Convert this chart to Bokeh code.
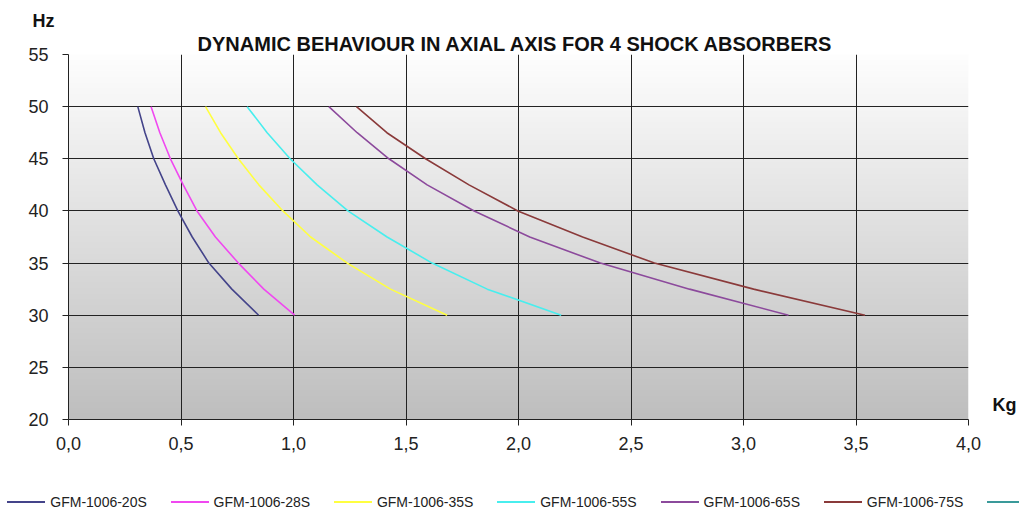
import numpy as np
from bokeh.plotting import figure
from bokeh.layouts import column
from bokeh.models import Range1d, FixedTicker, Title, LinearAxis, Div
from bokeh.embed import file_html
from bokeh.resources import INLINE

# ---------------- data ----------------
title_text = "DYNAMIC BEHAVIOUR IN AXIAL AXIS FOR 4  SHOCK ABSORBERS"
y_label = "Hz"
x_label = "Kg"

hz = [50, 47.5, 45, 42.5, 40, 37.5, 35, 32.5, 30]

series_names = ["GFM-1006-20S", "GFM-1006-28S", "GFM-1006-35S",
                "GFM-1006-55S", "GFM-1006-65S", "GFM-1006-75S"]
kg_20s = [0.308, 0.340, 0.379, 0.431, 0.486, 0.550, 0.624, 0.726, 0.845]
kg_28s = [0.367, 0.406, 0.453, 0.510, 0.571, 0.653, 0.755, 0.868, 1.005]
kg_35s = [0.609, 0.676, 0.755, 0.846, 0.953, 1.076, 1.239, 1.431, 1.683]
kg_55s = [0.794, 0.883, 0.985, 1.105, 1.242, 1.416, 1.616, 1.861, 2.190]
kg_65s = [1.157, 1.283, 1.424, 1.594, 1.803, 2.050, 2.364, 2.760, 3.200]
kg_75s = [1.280, 1.415, 1.587, 1.780, 1.997, 2.285, 2.604, 3.045, 3.540]
series_values = [kg_20s, kg_28s, kg_35s, kg_55s, kg_65s, kg_75s]
series_colors = ["#44448a", "#f048f0", "#ffff40", "#48eeee", "#8c4a9c", "#8a3a3a"]
# a seventh legend entry whose label lies beyond the right edge of the picture
extra_legend_color = "#3a9a9a"

x_ticks = [0.0, 0.5, 1.0, 1.5, 2.0, 2.5, 3.0, 3.5, 4.0]
x_tick_labels = ["0,0", "0,5", "1,0", "1,5", "2,0", "2,5", "3,0", "3,5", "4,0"]
y_ticks = [20, 25, 30, 35, 40, 45, 50, 55]
x_label_at = 21.4   # Hz level beside which the "Kg" caption sits

FONT = "Liberation Sans"
INK = "#222222"

# ---------------- main chart ----------------
p = figure(frame_width=900, frame_height=365, output_backend="svg",
           toolbar_location=None,
           x_range=Range1d(0, 4), y_range=Range1d(20, 55),
           min_border_left=68, min_border_right=51,
           min_border_top=54, min_border_bottom=61)
p.outline_line_color = None
p.background_fill_color = "white"
p.border_fill_color = "white"

# gradient background of the plot area
n = 256
ys = np.linspace(0.0, 1.0, n)          # 0 = bottom (20 Hz), 1 = top (55 Hz)
g = (190 + 64 * ys).clip(0, 255).astype(np.uint8)
img = np.empty((n, 1), dtype=np.uint32)
view = img.view(dtype=np.uint8).reshape((n, 1, 4))
view[:, 0, 0] = g
view[:, 0, 1] = g
view[:, 0, 2] = g
view[:, 0, 3] = 255
p.image_rgba(image=[img], x=0, y=20, dw=4, dh=35, level="image")

# axes
p.xaxis.ticker = FixedTicker(ticks=x_ticks)
p.xaxis.major_label_overrides = {t: l for t, l in zip(x_ticks, x_tick_labels)}
p.yaxis.ticker = FixedTicker(ticks=y_ticks)
for ax in (p.xaxis, p.yaxis):
    ax.axis_line_color = INK
    ax.major_tick_line_color = INK
    ax.major_tick_out = 6
    ax.major_tick_in = 0
    ax.minor_tick_line_color = None
    ax.major_label_text_font = FONT
    ax.major_label_text_font_size = "18px"
    ax.major_label_text_color = INK
p.yaxis.major_label_standoff = 14
p.xaxis.major_label_standoff = 11

# "Kg" caption on the right, beside the bottom of the plot
kg_axis = LinearAxis(ticker=FixedTicker(ticks=[x_label_at]),
                     major_label_overrides={x_label_at: x_label},
                     axis_line_color=None, major_tick_line_color=None,
                     minor_tick_line_color=None, major_tick_out=0, major_tick_in=0,
                     major_label_standoff=24,
                     major_label_text_font=FONT, major_label_text_font_size="18px",
                     major_label_text_font_style="bold",
                     major_label_text_color="#111111")
p.add_layout(kg_axis, "right")

p.xgrid.ticker = FixedTicker(ticks=x_ticks)
p.ygrid.ticker = FixedTicker(ticks=y_ticks)
for gr in (p.xgrid, p.ygrid):
    gr.grid_line_color = INK
    gr.grid_line_alpha = 1.0
    gr.grid_line_width = 1

# curves
for vals, col in zip(series_values, series_colors):
    p.line(vals, hz, line_color=col, line_width=1.6)

# titles (first added sits nearest the plot)
p.add_layout(Title(text=title_text, align="center", standoff=0,
                   text_font=FONT, text_font_size="20px", text_font_style="bold",
                   text_color="#111111"), "above")
p.add_layout(Title(text=y_label, align="left", offset=-36, standoff=0,
                   text_font=FONT, text_font_size="18px", text_font_style="bold",
                   text_color="#111111"), "above")

# ---------------- legend strip (HTML text, below the chart) ----------------
ENTRY_STEP = 163.3
FIRST_X = 7.3
parts = []
legend_entries = list(zip(series_names, series_colors)) + [("", extra_legend_color)]
for i, (name, col) in enumerate(legend_entries):
    x0 = FIRST_X + ENTRY_STEP * i
    parts.append(
        f'<div style="position:absolute;left:{x0:.1f}px;top:21px;width:38px;'
        f'height:0;border-top:2px solid {col};"></div>')
    if name:
        parts.append(
            f'<div style="position:absolute;left:{x0 + 43:.1f}px;top:14px;'
            f"font-family:'{FONT}';font-size:14px;line-height:16px;"
            f'color:{INK};white-space:nowrap;">{name}</div>')
legend_html = ('<div style="position:relative;width:1019px;height:40px;'
               'overflow:hidden;background:white;">' + "".join(parts) + "</div>")
legend_div = Div(text=legend_html, width=1019, height=40, margin=0)

layout = column(p, legend_div, spacing=0)
open("out.html", "w").write(file_html(layout, INLINE))
